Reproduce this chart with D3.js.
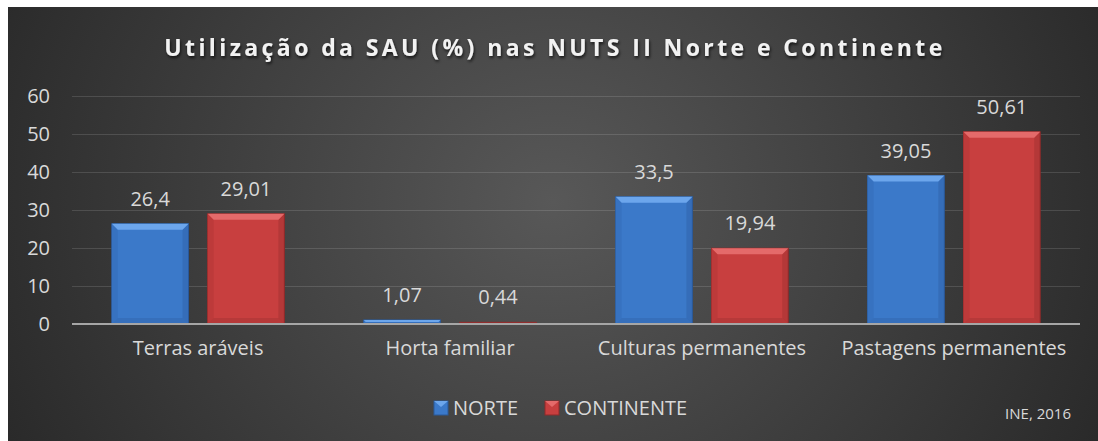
<!DOCTYPE html>
<html>
<head>
<meta charset="utf-8">
<script src="https://cdn.jsdelivr.net/npm/d3@7"></script>
<style>
  body { margin: 0; background: #fff; }
  svg text { font-family: "Open Sans", "DejaVu Sans", sans-serif; }
</style>
</head>
<body>
<div id="chart"></div>
<script>
// data
const categories = ["Terras aráveis", "Horta familiar", "Culturas permanentes", "Pastagens permanentes"];
const seriesNames = ["NORTE", "CONTINENTE"];
const norte = [26.4, 1.07, 33.5, 39.05];
const continente = [29.01, 0.44, 19.94, 50.61];
const yTicks = [0, 10, 20, 30, 40, 50, 60];

const W = 1098, H = 441;
const margin = {left: 72, right: 18, top: 96, bottom: 117};

const svg = d3.select("#chart").append("svg")
    .attr("width", W)
    .attr("height", H);

const defs = svg.append("defs");

// background radial gradient
const bg = defs.append("radialGradient")
    .attr("id", "bg")
    .attr("cx", "50%").attr("cy", "45%").attr("r", "60%")
    .attr("gradientTransform", "translate(0.5,0.45) scale(1,2.3) translate(-0.5,-0.45)");
bg.append("stop").attr("offset", "0%").attr("stop-color", "#585858");
bg.append("stop").attr("offset", "100%").attr("stop-color", "#262626");

const shadow = defs.append("filter").attr("id", "tshadow")
    .attr("x", "-5%").attr("y", "-20%").attr("width", "110%").attr("height", "150%");
shadow.append("feDropShadow")
    .attr("dx", 1).attr("dy", 2).attr("stdDeviation", 1.5)
    .attr("flood-color", "#000").attr("flood-opacity", 0.7);

svg.append("rect")
    .attr("x", 8).attr("y", 7)
    .attr("width", W - 8).attr("height", H - 7)
    .attr("fill", "url(#bg)");

// title
svg.append("text")
    .attr("x", 555)
    .attr("y", 56)
    .attr("text-anchor", "middle")
    .attr("fill", "#f2f2f2")
    .style("font-size", "23px")
    .style("font-weight", "bold")
    .style("letter-spacing", "3.4px")
    .attr("filter", "url(#tshadow)")
    .text("Utilização da SAU (%) nas NUTS II Norte e Continente");

const x0 = d3.scaleBand()
    .domain(categories)
    .range([margin.left, W - margin.right])
    .paddingInner(0.315)
    .paddingOuter(0.158);

const x1 = d3.scaleBand()
    .domain(seriesNames)
    .range([0, x0.bandwidth()])
    .paddingInner(0.2);

const y = d3.scaleLinear()
    .domain([0, 60])
    .range([H - margin.bottom, margin.top]);

// gridlines + y labels
const yAxis = svg.append("g")
    .attr("transform", `translate(${margin.left},0)`)
    .call(d3.axisLeft(y).tickValues(yTicks).tickSize(-(W - margin.left - margin.right)).tickPadding(22));
yAxis.select(".domain").remove();
yAxis.selectAll(".tick line")
    .attr("stroke", "#ffffff")
    .attr("stroke-opacity", d => d === 0 ? 0 : 0.13);
yAxis.selectAll(".tick text")
    .attr("fill", "#d9d9d9")
    .style("font-size", "20px")
    .style("font-family", "'Open Sans', sans-serif");

const data = categories.map((c, i) => ({cat: c, values: [
    {key: "NORTE", value: norte[i]},
    {key: "CONTINENTE", value: continente[i]}
]}));

const colors = {
    NORTE: {body: "#3b79c9", top: "#6ca6ec", side: "#3772c0", edge: "#2b5a9a"},
    CONTINENTE: {body: "#c83f3f", top: "#e46a6a", side: "#bd3a3a", edge: "#8e2a2a"}
};

// draw bars with a bevel
const groups = svg.selectAll(".cat")
    .data(data)
    .join("g")
    .attr("class", "cat")
    .attr("transform", d => `translate(${x0(d.cat)},0)`);

groups.each(function(d) {
    const g = d3.select(this);
    d.values.forEach(v => {
        const bx = x1(v.key), bw = x1.bandwidth();
        const by = y(v.value), bh = y(0) - y(v.value);
        const c = colors[v.key];
        const bev = Math.min(6, bh / 2);
        g.append("rect")
            .attr("x", bx).attr("y", by).attr("width", bw).attr("height", bh)
            .attr("fill", c.body).attr("stroke", c.edge).attr("stroke-width", 1);
        if (bh > 3) {
            // left side
            g.append("path")
                .attr("d", `M${bx},${by}L${bx + bev},${by + bev}L${bx + bev},${by + bh - bev}L${bx},${by + bh}Z`)
                .attr("fill", c.side);
            // right side
            g.append("path")
                .attr("d", `M${bx + bw},${by}L${bx + bw - bev},${by + bev}L${bx + bw - bev},${by + bh - bev}L${bx + bw},${by + bh}Z`)
                .attr("fill", c.edge).attr("opacity", 0.35);
            // top bevel
            g.append("path")
                .attr("d", `M${bx},${by}L${bx + bw},${by}L${bx + bw - bev},${by + bev}L${bx + bev},${by + bev}Z`)
                .attr("fill", c.top);
            // bottom
            g.append("path")
                .attr("d", `M${bx},${by + bh}L${bx + bw},${by + bh}L${bx + bw - bev},${by + bh - bev}L${bx + bev},${by + bh - bev}Z`)
                .attr("fill", c.edge).attr("opacity", 0.3);
        }
        // value label
        g.append("text")
            .attr("x", bx + bw / 2)
            .attr("y", by - 18)
            .attr("text-anchor", "middle")
            .attr("fill", "#d9d9d9")
            .style("font-size", "20px")
            .text(String(v.value).replace(".", ","));
    });
});

// baseline
svg.append("line")
    .attr("x1", margin.left).attr("x2", W - margin.right)
    .attr("y1", y(0)).attr("y2", y(0))
    .attr("stroke", "#a6a6a6").attr("stroke-width", 2);

// category labels
const xAxis = svg.append("g")
    .attr("transform", `translate(0,${y(0)})`)
    .call(d3.axisBottom(x0).tickSize(0).tickPadding(17));
xAxis.select(".domain").remove();
xAxis.selectAll(".tick text")
    .attr("fill", "#d9d9d9")
    .style("font-size", "20px")
    .style("font-family", "'Open Sans', sans-serif");

// legend
const legend = svg.append("g").attr("transform", "translate(434,401)");
const legendX = [0, 111];
seriesNames.forEach((s, i) => {
    const lg = legend.append("g").attr("transform", `translate(${legendX[i]},0)`);
    const c = colors[s];
    lg.append("rect").attr("width", 14).attr("height", 14)
        .attr("fill", c.body).attr("stroke", c.edge);
    lg.append("path").attr("d", "M0,0L14,0L7,6Z").attr("fill", c.top);
    lg.append("text")
        .attr("x", 19).attr("y", 14)
        .attr("fill", "#d9d9d9")
        .style("font-size", "20px")
        .text(s);
});

// source
svg.append("text")
    .attr("x", 1071).attr("y", 419)
    .attr("text-anchor", "end")
    .attr("fill", "#d9d9d9")
    .style("font-size", "15px")
    .text("INE, 2016");
</script>
</body>
</html>
